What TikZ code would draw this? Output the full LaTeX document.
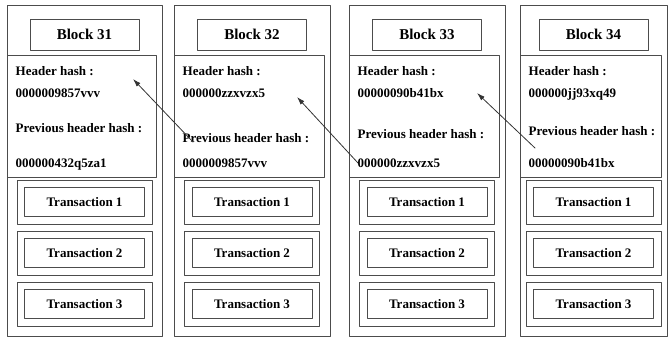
\documentclass[tikz,border=0pt]{standalone}
\usepackage{fontspec}
\setmainfont{Liberation Serif}
\usepackage{tikz}
\usetikzlibrary{shapes,arrows,arrows.meta}
\usetikzlibrary{calc}
\tikzset{
	blockline/.style={draw=black!70, line width=0.9pt},
	titlebox/.style={blockline, minimum width=109pt, minimum height=31pt, inner sep=0pt, font=\fontsize{15}{18}\selectfont\bfseries},
	txouter/.style={blockline, minimum width=135pt, minimum height=44pt, inner sep=0pt},
	txinner/.style={blockline, minimum width=120pt, minimum height=29pt, inner sep=0pt, font=\fontsize{13}{15}\selectfont\bfseries},
	hashtext/.style={anchor=base west, inner sep=0pt, font=\fontsize{13}{15}\selectfont\bfseries},
	linkarrow/.style={draw=black!80, line width=0.8pt, -{Latex[length=8pt,width=5pt]}}
}

\begin{document}
\begin{tikzpicture}[line cap=round,line join=round,x=1pt,y=-1pt]
	\useasboundingbox (0,0) rectangle (670,338);
	% blocks
	\foreach \n/\l/\r/\cur/\prev/\py in {31/7/162/0000009857vvv/000000432q5za1/132,
		32/174/330/000000zzxvzx5/0000009857vvv/142,
		33/349/505/00000090b41bx/000000zzxvzx5/138,
		34/520/667/000000jj93xq49/00000090b41bx/135}{
		\draw[blockline] (\l,5) rectangle (\r,336);
		\node[titlebox] (title\n) at ({(\l+\r)/2},34.5) {Block \n};
		\draw[blockline] (\l,55) rectangle (\r-6,177);
		\node[hashtext] (hh\n) at (\l+8.5,75) {Header hash :};
		\node[hashtext] (hv\n) at (\l+8.5,97) {\cur};
		\node[hashtext] (ph\n) at (\l+8.5,\py) {Previous header hash :};
		\node[hashtext] (pv\n) at (\l+8.5,167) {\prev};
		\foreach \t/\y in {1/202,2/253,3/304}{
			\node[txouter] (txo\n\t) at ({(\l+\r)/2},\y) {};
			\node[txinner] (tx\n\t) at (txo\n\t) {Transaction \t};
		}
	}
	% links to previous block
	\coordinate (h31) at (133,79);
	\coordinate (h32) at (297,97);
	\coordinate (h33) at (477,93);
	\coordinate (p32) at (193,142);
	\coordinate (p33) at (358,163);
	\coordinate (p34) at (535,148);
	\draw[linkarrow] (p32) -- (h31);
	\draw[linkarrow] (p33) -- (h32);
	\draw[linkarrow] (p34) -- (h33);
\end{tikzpicture}
\end{document}
